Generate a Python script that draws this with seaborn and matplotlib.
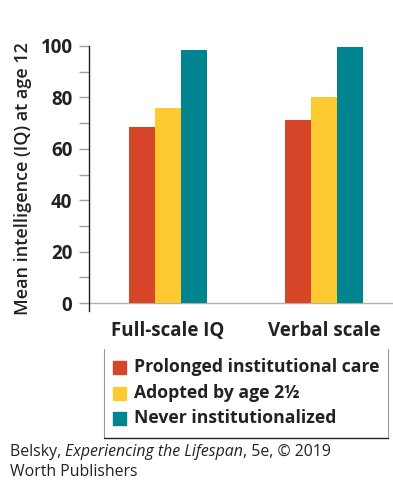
import matplotlib
matplotlib.use('Agg')
import matplotlib.pyplot as plt
import seaborn as sns
import pandas as pd
from matplotlib.lines import Line2D
from matplotlib.patches import Rectangle

# dados do gráfico
escalas = ['Full-scale IQ', 'Verbal scale']
grupos = ['Prolonged institutional care', 'Adopted by age 2½', 'Never institutionalized']
prolongado = [68.5, 71.3]
adotado = [76.0, 80.1]
nunca = [98.5, 99.7]
cores = ['#D64527', '#FEC931', '#008490']

linhas = []
for g, vals in zip(grupos, [prolongado, adotado, nunca]):
    for e, v in zip(escalas, vals):
        linhas.append({'escala': e, 'grupo': g, 'iq': v})
df = pd.DataFrame(linhas)

sns.set_style('white')
plt.rcParams['font.family'] = ['Open Sans', 'DejaVu Sans']

fig = plt.figure(figsize=(3.93, 4.82), dpi=100)
ax = fig.add_axes([0.2265, 0.3548, 0.7735, 0.5498])

sns.barplot(data=df, x='escala', y='iq', hue='grupo', palette=cores,
            width=0.5, saturation=1, linewidth=0, ax=ax, legend=False)

ax.set_xlim(-0.506, 1.44)
ax.set_ylim(-3.1, 100)
ax.axhline(0, color='#b0b0b0', lw=1, zorder=0)

for s in ['top', 'right', 'bottom']:
    ax.spines[s].set_visible(False)
ax.spines['left'].set_color('#222222')
ax.spines['left'].set_linewidth(1)

ax.set_yticks([0, 20, 40, 60, 80, 100])
ax.set_yticks([10, 30, 50, 70, 90], minor=True)
ax.tick_params(axis='y', which='both', direction='out', length=7, width=1,
               color='#a0a0a0', labelsize=13.5, pad=5, left=True)
ax.tick_params(axis='x', length=0, pad=7, labelsize=13.5)
for t in ax.get_yticklabels():
    t.set_fontweight('bold')
    t.set_color('#222222')
for t in ax.get_xticklabels():
    t.set_fontweight('bold')
    t.set_color('#222222')

ax.set_xlabel('')
ax.set_ylabel('Mean intelligence (IQ) at age 12', fontsize=13,
              fontweight='semibold', color='#222222', labelpad=6)

# legenda manual
W, H = 393, 482
def fx(x): return x / W
def fy(y): return 1 - y / H

for y0, g, c in zip([367, 393, 418], grupos, cores):
    fig.patches.append(Rectangle((fx(113), fy(y0 + 6.5)), 13 / W, 13 / H,
                                 transform=fig.transFigure, color=c))
    fig.text(fx(134), fy(y0), g, fontsize=12.7, fontweight='bold',
             color='#222222', va='center', ha='left')

fig.add_artist(Line2D([fx(104), fx(104)], [fy(349), fy(438)], color='#999999', lw=0.8))
fig.add_artist(Line2D([fx(388), fx(388)], [fy(349), fy(438)], color='#999999', lw=0.8))
fig.add_artist(Line2D([fx(104), fx(388)], [fy(438), fy(438)], color='#222222', lw=1))

# legenda da fonte, em partes (italico no meio)
partes = [('Belsky, ', 'normal'), ('Experiencing the Lifespan', 'italic'),
          (', 5e, © 2019', 'normal')]
r = fig.canvas.get_renderer()
x = fx(10)
for txt, st in partes:
    t = fig.text(x, fy(452), txt, fontsize=11.4, style=st, color='#222222',
                 va='center', ha='left')
    bb = t.get_window_extent(renderer=r)
    x = bb.x1 / (W)
fig.text(fx(10), fy(472), 'Worth Publishers', fontsize=11.4, color='#222222',
         va='center', ha='left')

fig.savefig('out.png', dpi=100)
